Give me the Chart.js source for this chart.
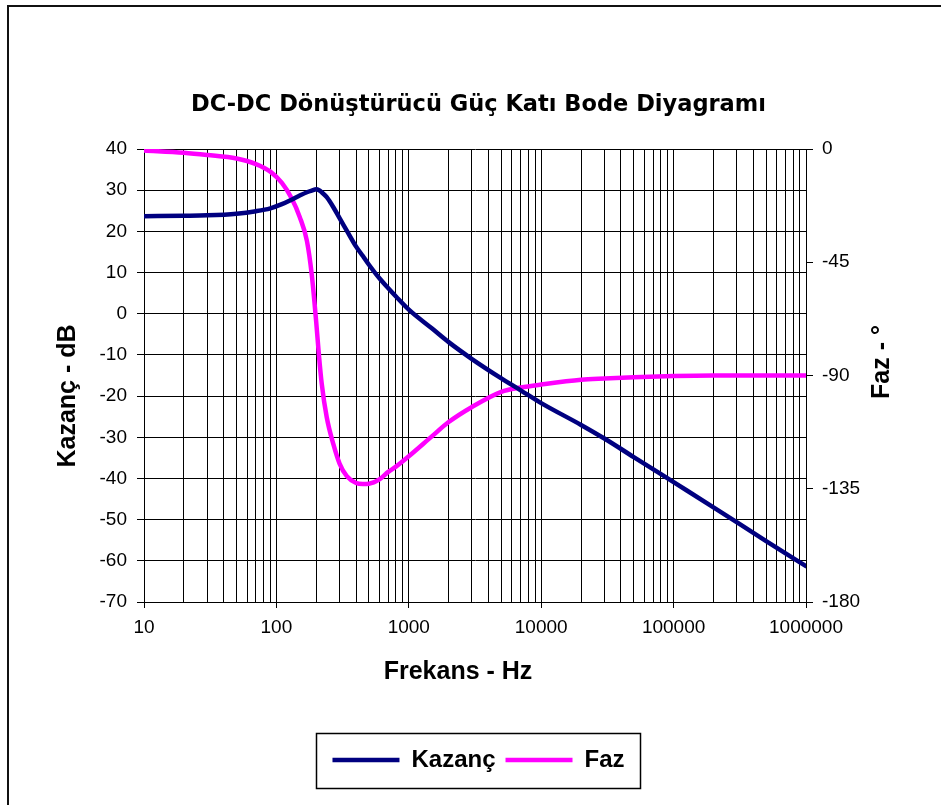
<!DOCTYPE html>
<html lang="tr">
<head>
<meta charset="UTF-8">
<title>DC-DC Dönüştürücü Güç Katı Bode Diyagramı</title>
<script src="https://cdn.jsdelivr.net/npm/chart.js@4"></script>
<style>
    html, body {
        margin: 0;
        padding: 0;
        background: #fff;
        overflow: hidden;
    }
    /* thin outer frame of the chart object (only left and top edges are visible) */
    #frame {
        position: absolute;
        left: 7px;
        top: 5px;
        width: 1000px;
        height: 1000px;
        border-left: 2px solid #111;
        border-top: 2px solid #111;
    }
    #wrap {
        position: absolute;
        left: 0;
        top: 0;
        width: 941px;
        height: 805px;
    }
</style>
</head>
<body>
<div id="frame"></div>
<div id="wrap"><canvas id="bode" width="941" height="805"></canvas></div>

<script>
// frequency points (Hz)
const frequencies = [10, 20, 30, 50, 70, 90, 110, 130, 150, 170, 185, 200, 210, 220, 240, 270, 300, 340,
    400, 450, 500, 600, 700, 800, 1000, 1500, 2000, 3000, 5000, 7000, 10000, 20000, 30000, 50000,
    100000, 200000, 500000, 1000000];

// Kazanç (dB)
const gainDb = [23.7, 23.8, 23.9, 24.3, 24.9, 25.6, 26.6, 27.7, 28.7, 29.5, 29.9, 30.2, 30.0, 29.5, 28.3, 25.8, 23.2, 20.2,
    16.3, 14.0, 11.9, 8.6, 6.2, 4.2, 1.0, -3.6, -6.9, -11.0, -15.7, -18.6, -21.7, -27.0, -30.3, -34.8,
    -40.9, -47.0, -55.2, -61.3];

// Faz (derece)
const phaseDeg = [-0.6, -1.5, -2.4, -3.8, -6.0, -9.0, -13.5, -19.5, -27.0, -36.5, -50.0, -69.0, -82.5, -93.3, -106.6, -117.5, -125.0, -130.0,
    -132.7, -133.1, -133.0, -131.3, -128.3, -126.2, -122.1, -114.1, -108.5, -102.5, -96.5, -94.8, -93.6, -91.7, -91.2, -90.7,
    -90.2, -90.0, -90.0, -90.0];

// axis ticks
const decadeTicks = [10, 100, 1000, 10000, 100000, 1000000];
const minorFactors = [2, 3, 4, 5, 6, 7, 8, 9];
const gainRange = { min: -70, max: 40, step: 10 };
const phaseRange = { min: -180, max: 0, step: 45 };

const seriesNames = ['Kazanç', 'Faz'];
const seriesColors = ['#000080', '#FF00FF'];

function isDecade(v) {
    const l = Math.log10(v);
    return Math.abs(l - Math.round(l)) < 1e-9;
}

// extra drawing: axis titles (Excel style) and the legend frame
const extras = {
    id: 'extras',
    afterDraw(chart) {
        const ctx = chart.ctx;
        ctx.save();
        ctx.fillStyle = '#000';
        ctx.font = 'bold 25px "Liberation Sans", Arial, sans-serif';
        ctx.textAlign = 'center';
        ctx.textBaseline = 'middle';
        ctx.fillText('Frekans - Hz', 458, 672);

        const rotated = (text, x, y) => {
            ctx.save();
            ctx.translate(x, y);
            ctx.rotate(-Math.PI / 2);
            ctx.fillText(text, 0, 0);
            ctx.restore();
        };
        rotated('Kazanç - dB', 68, 396);
        rotated('Faz - °', 882, 362);

        // legend frame
        const boxes = chart.legend.legendHitBoxes;
        if (boxes && boxes.length) {
            let left = Infinity, right = -Infinity, mid = 0;
            boxes.forEach(b => {
                left = Math.min(left, b.left);
                right = Math.max(right, b.left + b.width);
                mid = b.top + b.height / 2;
            });
            ctx.strokeStyle = '#000';
            ctx.lineWidth = 1.5;
            ctx.strokeRect(Math.round(left - 16) + 0.5, Math.round(mid - 27) + 0.5,
                Math.round(right - left + 32), 55);
        }
        ctx.restore();
    }
};

const ctx = document.getElementById('bode').getContext('2d');
new Chart(ctx, {
    type: 'line',
    data: {
        datasets: [{
            label: seriesNames[0],
            data: frequencies.map((f, i) => ({ x: f, y: gainDb[i] })),
            borderColor: seriesColors[0],
            backgroundColor: seriesColors[0],
            borderWidth: 4.5,
            borderCapStyle: 'round',
            pointRadius: 0,
            cubicInterpolationMode: 'monotone',
            yAxisID: 'y'
        }, {
            label: seriesNames[1],
            data: frequencies.map((f, i) => ({ x: f, y: phaseDeg[i] })),
            borderColor: seriesColors[1],
            backgroundColor: seriesColors[1],
            borderWidth: 4.5,
            borderCapStyle: 'round',
            pointRadius: 0,
            cubicInterpolationMode: 'monotone',
            yAxisID: 'y1'
        }]
    },
    options: {
        responsive: false,
        animation: false,
        layout: { padding: { left: 16, right: 0, top: 0, bottom: 23 } },
        plugins: {
            title: {
                display: true,
                text: 'DC-DC Dönüştürücü Güç Katı Bode Diyagramı',
                color: '#000',
                font: { family: '"DejaVu Sans", sans-serif', size: 22.5, weight: 'bold' },
                padding: { top: 92, bottom: 30 }
            },
            legend: {
                position: 'bottom',
                labels: {
                    color: '#000',
                    font: { family: '"Liberation Sans", Arial, sans-serif', size: 24, weight: 'bold' },
                    usePointStyle: true,
                    pointStyle: 'line',
                    pointStyleWidth: 67,
                    padding: 10
                }
            },
            tooltip: { enabled: false }
        },
        scales: {
            x: {
                type: 'logarithmic',
                min: decadeTicks[0],
                max: decadeTicks[decadeTicks.length - 1],
                afterBuildTicks: (scale) => {
                    const list = [];
                    decadeTicks.forEach((d, i) => {
                        list.push({ value: d, major: true });
                        if (i < decadeTicks.length - 1) {
                            minorFactors.forEach(m => list.push({ value: d * m, major: false }));
                        }
                    });
                    scale.ticks = list;
                },
                afterFit: (scale) => { scale.height = 136; },
                border: { color: '#000', width: 1 },
                grid: {
                    color: '#000',
                    lineWidth: 1,
                    tickLength: 6,
                    tickColor: (c) => (c.tick && isDecade(c.tick.value)) ? '#000' : 'rgba(0,0,0,0)'
                },
                ticks: {
                    autoSkip: false,
                    maxRotation: 0,
                    color: '#000',
                    padding: 8,
                    font: { family: '"Liberation Sans", Arial, sans-serif', size: 19 },
                    callback: (v) => isDecade(v) ? String(v) : ''
                }
            },
            y: {
                position: 'left',
                min: gainRange.min,
                max: gainRange.max,
                afterFit: (scale) => { scale.width = 128; },
                border: { color: '#000', width: 1 },
                grid: { color: '#000', lineWidth: 1, tickLength: 7 },
                ticks: {
                    stepSize: gainRange.step,
                    color: '#000',
                    padding: 10,
                    font: { family: '"Liberation Sans", Arial, sans-serif', size: 19 }
                }
            },
            y1: {
                position: 'right',
                min: phaseRange.min,
                max: phaseRange.max,
                afterFit: (scale) => { scale.width = 135; },
                border: { color: '#000', width: 1 },
                grid: { drawOnChartArea: false, color: '#000', tickLength: 7 },
                ticks: {
                    stepSize: phaseRange.step,
                    color: '#000',
                    padding: 9,
                    font: { family: '"Liberation Sans", Arial, sans-serif', size: 19 }
                }
            }
        }
    },
    plugins: [extras]
});
</script>
</body>
</html>
